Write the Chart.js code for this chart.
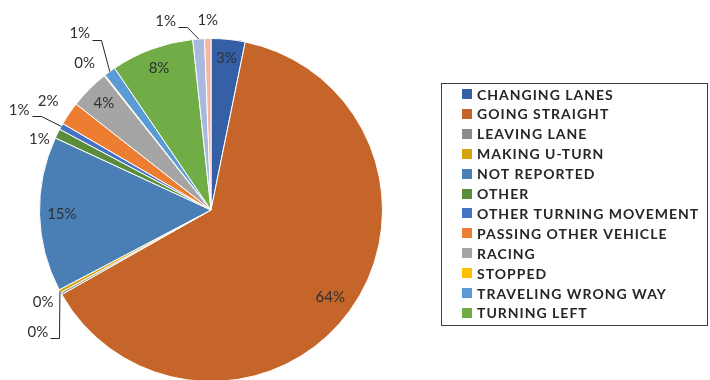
<!DOCTYPE html>
<html lang="en">
<head>
    <meta charset="UTF-8">
    <title>Vehicle movement prior to crash</title>
    <script src="https://cdn.jsdelivr.net/npm/chart.js"></script>
    <style>
        html, body { margin: 0; padding: 0; background: #fff; overflow: hidden; }
        #wrap { position: relative; width: 710px; height: 390px; }
    </style>
</head>
<body>
<div id="wrap"><canvas id="pieChart" width="710" height="390"></canvas></div>

<script>
    // categories (the last two slices are not shown in the legend of the original)
    const movements = ["CHANGING LANES", "GOING STRAIGHT", "LEAVING LANE", "MAKING U-TURN", "NOT REPORTED",
        "OTHER", "OTHER TURNING MOVEMENT", "PASSING OTHER VEHICLE", "RACING", "STOPPED",
        "TRAVELING WRONG WAY", "TURNING LEFT", "TURNING RIGHT", "UNKNOWN"];
    // share in percent
    const shares = [3.2, 63.6, 0.2, 0.3, 14.6, 0.9, 0.6, 2.2, 3.7, 0.1, 1.1, 7.8, 1.1, 0.6];
    const legendCount = 12;

    const colours = ["#3560a6", "#c5652a", "#8c8c8c", "#d4a20b", "#4a7fb5", "#5b8c3a", "#4472c4",
        "#ed7d31", "#a5a5a5", "#ffc000", "#5b9bd5", "#70ad47", "#a9b8de", "#f4b6a2"];

    // where each percentage label goes: inside (r = radius fraction, af = position inside slice)
    // or outside (dx/dy from the slice edge, optional leader line)
    const labelSpec = [
        { r: 0.89 },
        { r: 0.86 },
        { dx: -18, dy: 9 },
        { dx: -22, dy: 41, leader: true },
        { r: 0.87 },
        { dx: -18, dy: 6 },
        { dx: -42, dy: -16, leader: true },
        { dx: -21, dy: -12 },
        { r: 0.88 },
        { dx: -20, dy: -12 },
        { dx: -30, dy: -38, leader: true },
        { r: 0.88 },
        { dx: -33, dy: -18, leader: true },
        { dx: 0, dy: -18 }
    ];

    const total = shares.reduce((a, b) => a + b, 0);

    const sliceLabels = {
        id: 'sliceLabels',
        afterDatasetsDraw(chart) {
            const ctx = chart.ctx;
            const meta = chart.getDatasetMeta(0);
            ctx.save();
            ctx.font = '15px Lato';
            ctx.fillStyle = '#303030';
            ctx.strokeStyle = '#262626';
            ctx.lineWidth = 1;
            ctx.textAlign = 'center';
            ctx.textBaseline = 'middle';
            meta.data.forEach((arc, i) => {
                const p = arc.getProps(['x', 'y', 'startAngle', 'endAngle', 'outerRadius'], true);
                const spec = labelSpec[i];
                const af = spec.af === undefined ? 0.5 : spec.af;
                const a = p.startAngle + (p.endAngle - p.startAngle) * af;
                const text = Math.round(shares[i] / total * 100) + '%';
                if (spec.r) {
                    ctx.fillText(text, p.x + Math.cos(a) * p.outerRadius * spec.r, p.y + Math.sin(a) * p.outerRadius * spec.r);
                    return;
                }
                const ax = p.x + Math.cos(a) * p.outerRadius;
                const ay = p.y + Math.sin(a) * p.outerRadius;
                const lx = ax + spec.dx, ly = ay + spec.dy;
                ctx.fillText(text, lx, ly);
                if (spec.leader) {
                    const w = ctx.measureText(text).width;
                    const sx = Math.round(lx + w / 2 + 2) + 0.5, sy = Math.round(ly + 6) + 0.5;
                    ctx.beginPath();
                    ctx.moveTo(sx, sy);
                    ctx.lineTo(sx + 9, sy);
                    ctx.lineTo(ax, ay);
                    ctx.stroke();
                }
            });
            ctx.restore();
        }
    };

    const boxLegend = {
        id: 'boxLegend',
        afterDraw(chart) {
            const ctx = chart.ctx;
            ctx.save();
            ctx.strokeStyle = '#404040';
            ctx.lineWidth = 1;
            ctx.strokeRect(441.5, 83.5, 266, 242);
            ctx.font = 'bold 14px Lato';
            ctx.letterSpacing = '1px';
            ctx.textBaseline = 'middle';
            ctx.textAlign = 'left';
            for (let i = 0; i < legendCount; i++) {
                const y = 94 + i * 19.9;
                ctx.fillStyle = colours[i];
                ctx.fillRect(462, Math.round(y - 5), 10, 10);
                ctx.fillStyle = '#262626';
                ctx.fillText(movements[i], 477, y + 1);
            }
            ctx.restore();
        }
    };

    new Chart(document.getElementById('pieChart'), {
        type: 'pie',
        data: {
            labels: movements,
            datasets: [{
                data: shares,
                backgroundColor: colours,
                borderColor: '#ffffff',
                borderWidth: 1
            }]
        },
        options: {
            responsive: false,
            animation: false,
            layout: { padding: { top: 38, left: 39, right: 327, bottom: 8 } },
            plugins: {
                legend: { display: false },
                tooltip: { enabled: false }
            }
        },
        plugins: [sliceLabels, boxLegend]
    });
</script>
</body>
</html>
